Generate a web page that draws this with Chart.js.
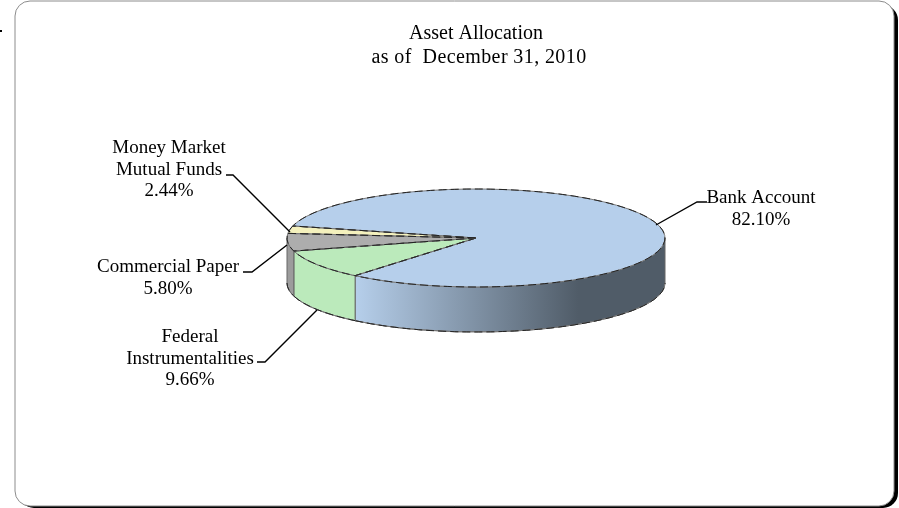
<!DOCTYPE html>
<html>
<head>
<meta charset="utf-8">
<title>Asset Allocation</title>
<script src="https://cdn.jsdelivr.net/npm/chart.js@4/dist/chart.umd.min.js"></script>
<style>
  html, body { margin: 0; padding: 0; background: #fff; }
  canvas { display: block; }
</style>
</head>
<body>
<canvas id="allocationChart" width="899" height="508"></canvas>
<script>
const categories = ['Bank Account', 'Federal Instrumentalities', 'Commercial Paper', 'Money Market Mutual Funds'];
const percentages = [82.10, 9.66, 5.80, 2.44];
const sliceColors = ['#b6cfeb', '#bbeabb', '#adadad', '#f4f1bd'];
const wallColors = ['#b6cfeb', '#bbeabb', '#9c9c9c', '#f4f1bd'];
const titleLines = ['Asset Allocation', 'as of  December 31, 2010'];

// Callouts: label lines, text centre, first baseline, then the leader polyline
const callouts = [
  { lines: ['Bank Account', '82.10%'], x: 761, y: 203, leader: [[707, 202], [697, 202], [656, 225]] },
  { lines: ['Federal', 'Instrumentalities', '9.66%'], x: 190, y: 342, leader: [[257, 362], [265, 362], [317, 310]] },
  { lines: ['Commercial Paper', '5.80%'], x: 168, y: 272, leader: [[243, 272], [252, 272], [287, 245]] },
  { lines: ['Money Market', 'Mutual Funds', '2.44%'], x: 169, y: 153, leader: [[226, 175], [233, 175], [290, 232]] }
];

const RX = 189;
const RY = 49;
const DEPTH = 45;
const TEXT_FONT = '19px "Liberation Serif"';
const TITLE_FONT = '20px "Liberation Serif"';

// Solid grey line with a darker broken line over it
function strokeEdge(ctx) {
  ctx.lineWidth = 1;
  ctx.setLineDash([]);
  ctx.strokeStyle = '#7a7a7a';
  ctx.stroke();
  ctx.setLineDash([8, 4]);
  ctx.strokeStyle = '#222';
  ctx.stroke();
  ctx.setLineDash([]);
}

// Side wall of the disc, only the part of a slice facing the viewer
function drawWall(ctx, arc, color, index) {
  const p = arc.getProps(['x', 'y', 'startAngle', 'endAngle']);
  const twoPi = Math.PI * 2;
  [0, twoPi, -twoPi].forEach(shift => {
    const a0 = Math.max(p.startAngle + shift, 0);
    const a1 = Math.min(p.endAngle + shift, Math.PI);
    if (a1 <= a0) return;
    let fill = color;
    if (index === 0) {
      const left = p.x + RX * Math.cos(a1);
      const grad = ctx.createLinearGradient(left, 0, p.x + RX, 0);
      grad.addColorStop(0, color);
      grad.addColorStop(0.72, '#505c68');
      grad.addColorStop(1, '#505c68');
      fill = grad;
    }
    ctx.beginPath();
    ctx.ellipse(p.x, p.y, RX, RY, 0, a0, a1);
    ctx.ellipse(p.x, p.y + DEPTH, RX, RY, 0, a1, a0, true);
    ctx.closePath();
    ctx.fillStyle = fill;
    ctx.fill();
    ctx.lineWidth = 1;
    ctx.strokeStyle = '#666';
    ctx.stroke();
    // lower rim
    ctx.beginPath();
    ctx.ellipse(p.x, p.y + DEPTH, RX, RY, 0, a1, a0, true);
    strokeEdge(ctx);
  });
}

const discPlugin = {
  id: 'disc',
  beforeDraw(chart) {
    const ctx = chart.ctx;
    // rounded panel with a heavy right and bottom edge
    ctx.save();
    ctx.fillStyle = '#fff';
    ctx.fillRect(0, 0, chart.width, chart.height);
    ctx.beginPath();
    ctx.roundRect(19, 5, 879, 503, 15);
    ctx.fillStyle = '#000';
    ctx.fill();
    ctx.beginPath();
    ctx.roundRect(15, 1, 879, 505, 15);
    ctx.fillStyle = '#fff';
    ctx.fill();
    ctx.strokeStyle = '#8c8c8c';
    ctx.lineWidth = 1;
    ctx.stroke();
    ctx.fillStyle = '#000';
    ctx.fillRect(0, 30, 2, 2);
    ctx.restore();
  },
  beforeDatasetsDraw(chart) {
    const ctx = chart.ctx;
    const arcs = chart.getDatasetMeta(0).data;
    ctx.save();
    arcs.forEach((arc, i) => drawWall(ctx, arc, wallColors[i], i));
    ctx.restore();
    // flatten the pie into the top face of the disc
    const cy = arcs[0].y;
    ctx.save();
    ctx.translate(0, cy);
    ctx.scale(1, RY / RX);
    ctx.translate(0, -cy);
  },
  afterDatasetsDraw(chart) {
    const ctx = chart.ctx;
    ctx.restore();
    // slice outlines, stroked unsquashed so the line weight stays even
    ctx.save();
    chart.getDatasetMeta(0).data.forEach(arc => {
      const p = arc.getProps(['x', 'y', 'startAngle', 'endAngle']);
      ctx.beginPath();
      ctx.moveTo(p.x, p.y);
      ctx.ellipse(p.x, p.y, RX, RY, 0, p.startAngle, p.endAngle);
      ctx.closePath();
      strokeEdge(ctx);
    });
    ctx.restore();
  },
  afterDraw(chart) {
    const ctx = chart.ctx;
    ctx.save();
    ctx.fillStyle = '#000';
    ctx.textAlign = 'center';
    ctx.textBaseline = 'alphabetic';
    ctx.font = TITLE_FONT;
    ctx.fillText(titleLines[0], 476, 39);
    ctx.letterSpacing = '0.4px';
    ctx.fillText(titleLines[1], 479, 63);
    ctx.letterSpacing = '0px';
    ctx.font = TEXT_FONT;
    callouts.forEach(c => {
      c.lines.forEach((line, i) => ctx.fillText(line, c.x, c.y + i * 21.7));
      ctx.beginPath();
      c.leader.forEach(([x, y], i) => (i ? ctx.lineTo(x, y) : ctx.moveTo(x, y)));
      ctx.strokeStyle = '#000';
      ctx.lineWidth = 1.4;
      ctx.stroke();
    });
    ctx.restore();
  }
};

new Chart(document.getElementById('allocationChart').getContext('2d'), {
  type: 'pie',
  data: {
    labels: categories,
    datasets: [{
      data: percentages,
      backgroundColor: sliceColors,
      borderWidth: 0
    }]
  },
  options: {
    responsive: false,
    animation: false,
    rotation: 284.2,
    radius: RX,
    layout: { padding: { left: 287, right: 234, top: 49, bottom: 81 } },
    plugins: {
      legend: { display: false },
      title: { display: false },
      tooltip: { enabled: false }
    }
  },
  plugins: [discPlugin]
});
</script>
</body>
</html>
